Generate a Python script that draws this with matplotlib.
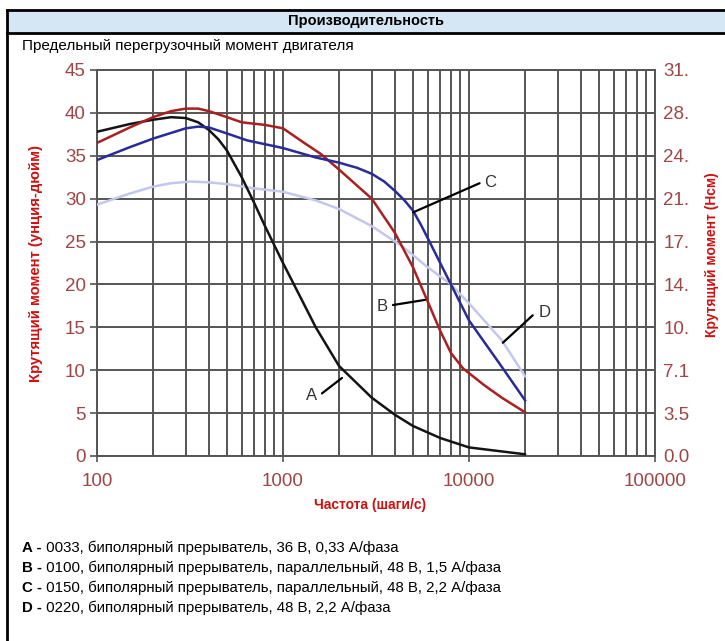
import matplotlib
matplotlib.use('Agg')
import matplotlib.pyplot as plt
from matplotlib.patches import Rectangle
from matplotlib.lines import Line2D
from matplotlib.ticker import LogLocator, NullFormatter, FixedLocator
import numpy as np

# ---------------- data ----------------
title = "Производительность"
subtitle = "Предельный перегрузочный момент двигателя"
xlabel = "Частота (шаги/с)"
ylabel_left = "Крутящий момент (унция-дюйм)"
ylabel_right = "Крутящий момент (Нсм)"

x_ticks = [100, 1000, 10000, 100000]
x_ticklabels = ["100", "1000", "10000", "100000"]
y_ticks = [0, 5, 10, 15, 20, 25, 30, 35, 40, 45]
y_right_labels = ["0.0", "3.5", "7.1", "10.", "14.", "17.", "21.", "24.", "28.", "31."]

freq_A = [100, 150, 200, 250, 300, 350, 400, 450, 500, 600, 700, 800, 1000, 1500, 2000, 3000, 4000, 5000, 7000, 10000, 20000]
torque_A = [37.8, 38.7, 39.2, 39.5, 39.4, 38.9, 38.0, 36.9, 35.6, 32.5, 29.5, 26.8, 22.5, 15.0, 10.5, 6.8, 4.8, 3.5, 2.1, 1.0, 0.2]

freq_B = [100, 150, 200, 250, 300, 350, 400, 500, 600, 800, 1000, 1300, 1600, 2000, 3000, 4000, 5000, 6000, 7000, 8000, 9300, 12000, 15000, 20000]
torque_B = [36.5, 38.3, 39.5, 40.2, 40.5, 40.5, 40.2, 39.5, 38.9, 38.6, 38.2, 36.5, 35.2, 33.4, 30.0, 26.0, 22.0, 18.0, 14.6, 12.0, 10.2, 8.3, 6.8, 5.1]

freq_C = [100, 150, 200, 300, 350, 400, 500, 640, 1000, 1500, 2000, 2500, 3000, 3500, 4000, 4500, 5000, 5500, 6000, 7000, 8000, 10000, 15000, 20000]
torque_C = [34.5, 36.0, 37.0, 38.2, 38.4, 38.3, 37.6, 36.8, 35.9, 34.8, 34.2, 33.6, 32.9, 32.0, 30.9, 29.8, 28.6, 27.0, 25.4, 22.5, 20.0, 15.8, 10.4, 6.5]

freq_D = [100, 150, 200, 250, 320, 400, 500, 700, 1000, 1500, 2000, 3000, 4400, 6000, 8000, 10000, 15000, 20000]
torque_D = [29.3, 30.6, 31.4, 31.8, 32.0, 31.9, 31.7, 31.2, 30.8, 29.8, 28.8, 26.8, 24.4, 22.0, 20.0, 17.8, 13.5, 9.3]

# curve labels: letter, text position, leader start, leader end (data coords)
curve_labels = ["A", "B", "C", "D"]
label_text_pos = [(1430, 7.1), (3400, 17.4), (13000, 31.9), (25500, 16.7)]
leader_start = [(1620, 7.3), (3900, 17.6), (11400, 31.8), (22000, 16.4)]
leader_end = [(2075, 9.1), (5800, 18.2), (5000, 28.4), (15200, 13.2)]

legend_keys = ["A -", "B -", "C -", "D -"]
legend_texts = [
    " 0033, биполярный прерыватель, 36 В, 0,33 А/фаза",
    " 0100, биполярный прерыватель, параллельный, 48 В, 1,5 А/фаза",
    " 0150, биполярный прерыватель, параллельный, 48 В, 2,2 А/фаза",
    " 0220, биполярный прерыватель, 48 В, 2,2 А/фаза",
]

# ---------------- style ----------------
W, H = 725, 641
NARROW = ['Liberation Sans Narrow', 'Liberation Sans', 'DejaVu Sans']
plt.rcParams['font.family'] = ['Liberation Sans', 'DejaVu Sans']

col_A = '#141414'
col_B = '#aa1f1f'
col_C = '#2a2a98'
col_D = '#c3c7ec'
tick_col = '#a04545'
lab_col = '#d01010'
grid_col = '#555555'


def fx(px):
    return px / W


def fy(py):
    return 1 - py / H


fig = plt.figure(figsize=(W / 100, H / 100), dpi=100)
fig.patch.set_facecolor('white')

# frame / title bar
fig.add_artist(Rectangle((fx(7), fy(33)), 1 - fx(7), fy(10) - fy(33),
                         transform=fig.transFigure, facecolor='#d5e7f5',
                         edgecolor='none', zorder=0))
fig.add_artist(Line2D([fx(7), 1], [fy(10), fy(10)], transform=fig.transFigure, color='black', lw=2))
fig.add_artist(Line2D([fx(7), 1], [fy(33), fy(33)], transform=fig.transFigure, color='black', lw=2))
fig.add_artist(Line2D([fx(7), fx(7)], [fy(10), 0], transform=fig.transFigure, color='black', lw=2))

fig.text(fx(366), fy(21.5), title, ha='center', va='center', fontsize=10.5,
         fontweight='bold', family=NARROW, color='black')
fig.text(fx(22), fy(46), subtitle, ha='left', va='center', fontsize=11,
         family=NARROW, color='black')

# axes
ax = fig.add_axes([fx(97), fy(456), fx(655) - fx(97), fy(70) - fy(456)])
ax.set_xscale('log')
ax.set_xlim(100, 100000)
ax.set_ylim(0, 45)
ax.set_axisbelow(True)

ax.xaxis.set_major_locator(FixedLocator(x_ticks))
ax.set_xticklabels(x_ticklabels)
ax.xaxis.set_minor_locator(LogLocator(base=10, subs=np.arange(2, 10)))
ax.xaxis.set_minor_formatter(NullFormatter())
ax.set_yticks(y_ticks)
ax.set_yticklabels([str(v) for v in y_ticks])

ax.grid(which='both', axis='x', color=grid_col, lw=1.4)
ax.grid(which='major', axis='y', color=grid_col, lw=1.4)
for s in ax.spines.values():
    s.set_color(grid_col)
    s.set_linewidth(1.4)

ax.tick_params(axis='x', which='major', length=4, width=1.2, color=grid_col,
               labelsize=13.5, labelcolor=tick_col, pad=8)
ax.tick_params(axis='x', which='minor', length=0)
ax.tick_params(axis='y', which='major', length=5, width=1.2, color=grid_col,
               labelsize=13.5, labelcolor=tick_col, pad=3)

ax2 = ax.twinx()
ax2.set_ylim(0, 45)
ax2.set_yticks(y_ticks)
ax2.set_yticklabels(y_right_labels)
ax2.tick_params(axis='y', length=0, labelsize=13.5, labelcolor=tick_col, pad=6)
for s in ax2.spines.values():
    s.set_visible(False)

# curves
lw = 1.8
ax.plot(freq_D, torque_D, color=col_D, lw=lw, zorder=3, solid_joinstyle='round')
ax.plot(freq_A, torque_A, color=col_A, lw=lw, zorder=4, solid_joinstyle='round')
ax.plot(freq_B, torque_B, color=col_B, lw=lw, zorder=4, solid_joinstyle='round')
ax.plot(freq_C, torque_C, color=col_C, lw=lw, zorder=5, solid_joinstyle='round')

# curve labels with leaders
for lab, tp, s, e in zip(curve_labels, label_text_pos, leader_start, leader_end):
    ax.annotate('', xy=e, xytext=s,
                arrowprops=dict(arrowstyle='-', color='black', lw=1.6,
                                shrinkA=0, shrinkB=0), zorder=6)
    ax.text(tp[0], tp[1], lab, ha='center', va='center', fontsize=12,
            color='#333333', zorder=6)

# axis labels
fig.text(fx(370), fy(505), xlabel, ha='center', va='center', fontsize=10,
         fontweight='bold', family=NARROW, color=lab_col)
fig.text(fx(36), fy(264), ylabel_left, ha='center', va='center', fontsize=10.7,
         fontweight='bold', family=NARROW, color=lab_col, rotation=90)
fig.text(fx(712), fy(255), ylabel_right, ha='center', va='center', fontsize=10,
         fontweight='bold', family=NARROW, color=lab_col, rotation=90)

# legend text (bold key + normal description)
renderer = fig.canvas.get_renderer()
for i, (k, t) in enumerate(zip(legend_keys, legend_texts)):
    ypx = 548 + 20 * i
    tk = fig.text(fx(22), fy(ypx), k, ha='left', va='center', fontsize=10.8,
                  fontweight='bold', family=NARROW, color='black')
    bb = tk.get_window_extent(renderer=renderer)
    fig.text(bb.x1 / W, fy(ypx), t, ha='left', va='center', fontsize=10.8,
             family=NARROW, color='black')

fig.savefig('out.png', dpi=100, facecolor='white')
